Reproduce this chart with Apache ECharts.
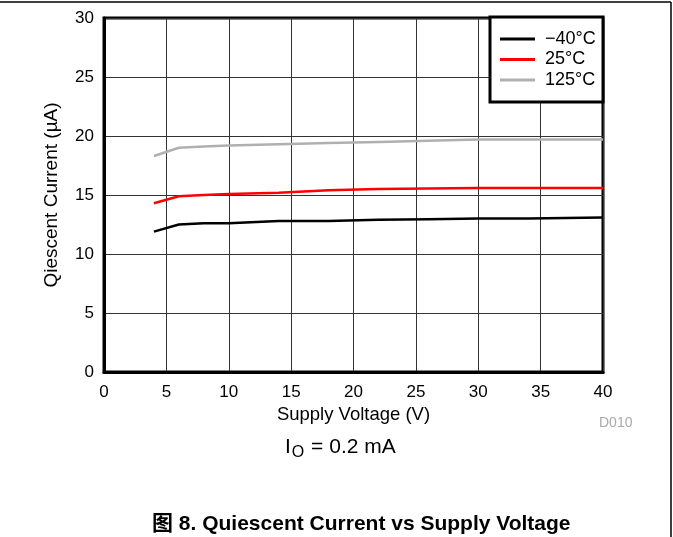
<!DOCTYPE html>
<html><head><meta charset="utf-8">
<script src="https://cdn.jsdelivr.net/npm/echarts@6/dist/echarts.min.js"></script>
<style>html,body{margin:0;padding:0;background:#fff}#c{width:673px;height:537px}</style>
</head><body><div id="c"></div>
<script>
var voltage = [4, 6, 8, 10, 14, 18, 22, 26, 30, 34, 40];
var iqMinus40 = [11.9, 12.5, 12.6, 12.6, 12.8, 12.8, 12.9, 12.95, 13.0, 13.0, 13.1];
var iq25 = [14.3, 14.9, 15.0, 15.08, 15.2, 15.4, 15.5, 15.55, 15.6, 15.6, 15.6];
var iq125 = [18.3, 19.0, 19.1, 19.2, 19.3, 19.4, 19.5, 19.6, 19.7, 19.7, 19.7];
var seriesNames = ['\u221240\u00B0C', '25\u00B0C', '125\u00B0C'];
var xTicks = [0, 5, 10, 15, 20, 25, 30, 35, 40];
var yTicks = [0, 5, 10, 15, 20, 25, 30];

function pairs(ys) { return voltage.map(function (v, i) { return [v, ys[i]]; }); }
var FONT = '"Liberation Sans", Arial, "Noto Sans CJK SC", sans-serif';
var chart = echarts.init(document.getElementById('c'), null, {renderer: 'canvas'});
function mkSeries(name, data, color) {
  return {name: name, type: 'line', data: pairs(data), symbol: 'none', smooth: false,
    lineStyle: {color: color, width: 2.5}, itemStyle: {color: color}, z: 5};
}
chart.setOption({
  animation: false,
  backgroundColor: '#fff',
  textStyle: {fontFamily: FONT},
  grid: {left: 104, top: 18, right: 70, bottom: 165, show: true, borderColor: '#000', borderWidth: 3, containLabel: false},
  xAxis: {type: 'value', min: xTicks[0], max: xTicks[xTicks.length - 1], interval: 5,
    name: 'Supply Voltage (V)', nameLocation: 'middle', nameGap: 31,
    nameTextStyle: {fontSize: 18.5, color: '#000', fontFamily: FONT},
    axisLine: {show: true, lineStyle: {color: '#000', width: 3}},
    axisTick: {show: false},
    axisLabel: {fontSize: 17, color: '#000', margin: 12, fontFamily: FONT},
    splitLine: {show: true, lineStyle: {color: '#333', width: 1}}},
  yAxis: {type: 'value', min: yTicks[0], max: yTicks[yTicks.length - 1], interval: 5,
    name: 'Qiescent Current (\u00B5A)', nameLocation: 'middle', nameGap: 43,
    nameTextStyle: {fontSize: 19, color: '#000', fontFamily: FONT},
    axisLine: {show: true, lineStyle: {color: '#000', width: 3}},
    axisTick: {show: false},
    axisLabel: {fontSize: 17, color: '#000', margin: 10, fontFamily: FONT},
    splitLine: {show: true, lineStyle: {color: '#333', width: 1}}},
  legend: {orient: 'vertical', left: 490, top: 19, padding: [11, 8, 8, 10], itemGap: 2.5,
    itemWidth: 35, itemHeight: 3, icon: 'rect', z: 10,
    borderWidth: 0,
    textStyle: {fontSize: 18, lineHeight: 18, color: '#000', fontFamily: FONT, padding: [0, 0, 0, 5]},
    data: seriesNames},
  series: [mkSeries(seriesNames[0], iqMinus40, '#000000'),
           mkSeries(seriesNames[1], iq25, '#ff0000'),
           mkSeries(seriesNames[2], iq125, '#b0b0b0')],
  graphic: [
    {type: 'rect', shape: {x: 490, y: 17, width: 113, height: 85}, style: {fill: '#fff', stroke: '#000', lineWidth: 3}, z: 6},
    {type: 'line', shape: {x1: 0, y1: 2, x2: 671, y2: 2}, style: {stroke: '#000', lineWidth: 1.5}},
    {type: 'line', shape: {x1: 671, y1: 2, x2: 671, y2: 537}, style: {stroke: '#000', lineWidth: 1.5}},
    {type: 'text', left: 599, top: 416, style: {text: 'D010', fill: '#aaa', fontSize: 14, fontFamily: FONT}},
    {type: 'text', left: 285, top: 437, style: {text: 'I{s|O} = 0.2 mA', fill: '#000', fontSize: 21, fontFamily: FONT,
      rich: {s: {fontSize: 16, fontFamily: FONT, fill: '#000', padding: [10, 1, 0, 1]}}}},
    {type: 'text', left: 152, top: 514, style: {text: '\u56FE 8. Quiescent Current vs Supply Voltage', fill: '#000', fontSize: 21, fontWeight: 'bold', fontFamily: FONT}}
  ]
});
</script></body></html>
